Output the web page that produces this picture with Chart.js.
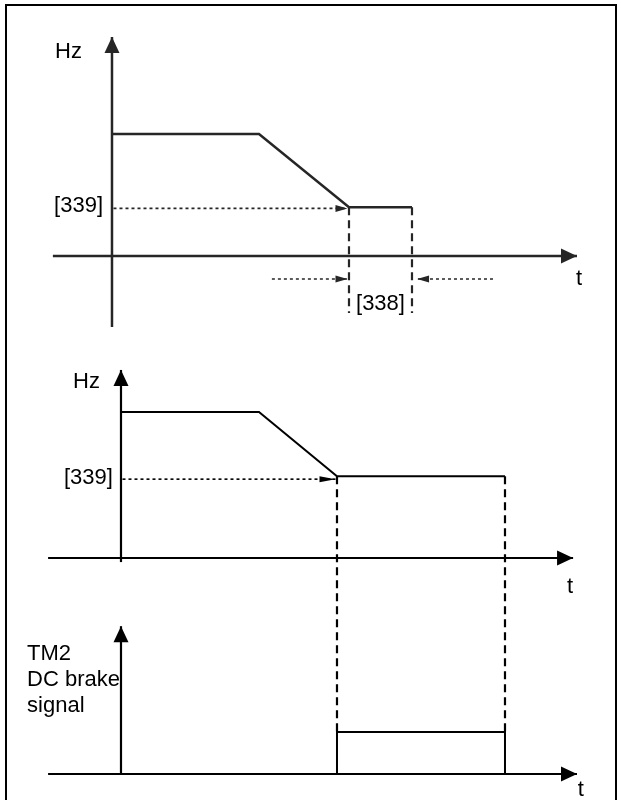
<!DOCTYPE html>
<html>
<head>
<meta charset="utf-8">
<script src="https://cdn.jsdelivr.net/npm/chart.js@4.4.0/dist/chart.umd.min.js"></script>
<style>
  body { margin: 0; background: #fff; }
  #wrap { position: relative; width: 621px; height: 800px; overflow: hidden; }
  #frame { position: absolute; left: 5px; top: 4px; width: 608px; height: 820px; border: 2px solid #000; }
  #diagram { position: absolute; left: 0; top: 0; }
</style>
</head>
<body>
<div id="wrap">
  <div id="frame"></div>
  <canvas id="diagram" width="621" height="800"></canvas>
</div>
<script>
// Panel 1: frequency vs time, short DC brake time [338]
const p1Time = [0, 4.9, 7.9, 10.0];
const p1Freq = [50, 50, 20, 20];
const p1AxisT = [-1.97, 15.5];   // time axis extent
const p1AxisF = [-29.1, 89.8];   // frequency axis extent
const p1BrakeStart = 7.9;
const p1BrakeEnd = 10.0;
const p1MarkerBottom = -23.4;
const p1TimeArrowLeft = [5.33, 7.85];
const p1TimeArrowRight = [12.7, 10.17];
const p1TimeArrowLevel = -9.4;

// Panel 2: frequency vs time
const p2Time = [0, 4.6, 7.2, 12.8];
const p2Freq = [50, 50, 28, 28];
const p2AxisT = [-2.43, 15.07];
const p2AxisF = [-1.4, 64.4];
const p2BrakeStart = 7.2;
const p2BrakeEnd = 12.8;
const p2MarkerBottom = -59.6;

// Panel 3: TM2 DC brake signal
const p3Time = [7.2, 7.2, 12.8, 12.8];
const p3Signal = [0, 1, 1, 0];
const p3AxisT = [-2.43, 15.2];
const p3AxisS = [0, 3.52];

// Labels (text anchored in data units)
const labels = [
  { text: 'Hz', x: -1.0, y: 81.1, xs: 'x1', ys: 'y1', align: 'right' },
  { text: '[339]', x: -0.3, y: 18.0, xs: 'x1', ys: 'y1', align: 'right' },
  { text: 't', x: 15.57, y: -11.9, xs: 'x1', ys: 'y1', align: 'center' },
  { text: '[338]', x: 8.95, y: -22.1, xs: 'x1', ys: 'y1', align: 'center' },
  { text: 'Hz', x: -0.7, y: 58.2, xs: 'x2', ys: 'y2', align: 'right' },
  { text: '[339]', x: -0.27, y: 25.3, xs: 'x2', ys: 'y2', align: 'right' },
  { text: 't', x: 14.97, y: -12, xs: 'x2', ys: 'y2', align: 'center' },
  { text: 't', x: 15.33, y: -0.524, xs: 'x2', ys: 'y3', align: 'center' },
  { text: 'TM2', x: -3.13, y: 2.714, xs: 'x2', ys: 'y3', align: 'left' },
  { text: 'DC brake', x: -3.13, y: 2.095, xs: 'x2', ys: 'y3', align: 'left' },
  { text: 'signal', x: -3.13, y: 1.476, xs: 'x2', ys: 'y3', align: 'left' }
];

const pts = (xs, ys) => xs.map((x, i) => ({ x: x, y: ys[i] }));

function line(data, xId, yId, color, width, extra = {}) {
  return Object.assign({
    data: data,
    xAxisID: xId,
    yAxisID: yId,
    showLine: true,
    borderColor: color,
    backgroundColor: color,
    borderWidth: width,
    pointRadius: 0,
    fill: false
  }, extra);
}

const DASH = [8, 5];
const DOT = [3, 3];
const AXIS_ARROW = [16, 7.5];
const SMALL_ARROW = [12, 3.5];
const c1 = '#262626';
const c2 = '#000';

const datasets = [
  // panel 1
  line(pts([0, 0], p1AxisF), 'x1', 'y1', c1, 2.5, { arrow: AXIS_ARROW }),
  line(pts(p1AxisT, [0, 0]), 'x1', 'y1', c1, 2.5, { arrow: AXIS_ARROW }),
  line(pts(p1Time, p1Freq), 'x1', 'y1', c1, 2.5),
  line(pts([p1BrakeStart, p1BrakeStart], [20, p1MarkerBottom]), 'x1', 'y1', c1, 2.2, { borderDash: DASH }),
  line(pts([p1BrakeEnd, p1BrakeEnd], [20, p1MarkerBottom]), 'x1', 'y1', c1, 2.2, { borderDash: DASH }),
  line(pts([0.05, p1BrakeStart - 0.05], [19.5, 19.5]), 'x1', 'y1', c1, 1.6, { borderDash: DOT, arrow: SMALL_ARROW }),
  line(pts(p1TimeArrowLeft, [p1TimeArrowLevel, p1TimeArrowLevel]), 'x1', 'y1', c1, 1.6, { borderDash: DOT, arrow: SMALL_ARROW }),
  line(pts(p1TimeArrowRight, [p1TimeArrowLevel, p1TimeArrowLevel]), 'x1', 'y1', c1, 1.6, { borderDash: DOT, arrow: SMALL_ARROW }),
  // panel 2
  line(pts([0, 0], p2AxisF), 'x2', 'y2', c2, 2.2, { arrow: AXIS_ARROW }),
  line(pts(p2AxisT, [0, 0]), 'x2', 'y2', c2, 2.2, { arrow: AXIS_ARROW }),
  line(pts(p2Time, p2Freq), 'x2', 'y2', c2, 2),
  line(pts([p2BrakeStart, p2BrakeStart], [28, p2MarkerBottom]), 'x2', 'y2', c2, 2.2, { borderDash: DASH }),
  line(pts([p2BrakeEnd, p2BrakeEnd], [28, p2MarkerBottom]), 'x2', 'y2', c2, 2.2, { borderDash: DASH }),
  line(pts([0.05, p2BrakeStart - 0.05], [27, 27]), 'x2', 'y2', c2, 1.6, { borderDash: DOT, arrow: [16, 3] }),
  // panel 3
  line(pts([0, 0], p3AxisS), 'x2', 'y3', c2, 2.2, { arrow: AXIS_ARROW }),
  line(pts(p3AxisT, [0, 0]), 'x2', 'y3', c2, 2.2, { arrow: AXIS_ARROW }),
  line(pts(p3Time, p3Signal), 'x2', 'y3', c2, 2)
];

// Arrowheads at the last point of a dataset
const arrowPlugin = {
  id: 'arrows',
  afterDatasetsDraw(chart) {
    const ctx = chart.ctx;
    chart.data.datasets.forEach((ds, i) => {
      if (!ds.arrow) return;
      const el = chart.getDatasetMeta(i).data;
      const a = el[el.length - 2];
      const b = el[el.length - 1];
      const ang = Math.atan2(b.y - a.y, b.x - a.x);
      const [len, half] = ds.arrow;
      ctx.save();
      ctx.translate(b.x, b.y);
      ctx.rotate(ang);
      ctx.beginPath();
      ctx.moveTo(0, 0);
      ctx.lineTo(-len, -half);
      ctx.lineTo(-len, half);
      ctx.closePath();
      ctx.fillStyle = ds.borderColor;
      ctx.fill();
      ctx.restore();
    });
  }
};

// Text labels
const labelPlugin = {
  id: 'labels',
  afterDraw(chart) {
    const ctx = chart.ctx;
    ctx.save();
    ctx.font = '22px "Liberation Sans", Arial, sans-serif';
    ctx.fillStyle = '#000';
    ctx.textBaseline = 'alphabetic';
    labels.forEach(l => {
      ctx.textAlign = l.align;
      ctx.fillText(l.text, chart.scales[l.xs].getPixelForValue(l.x), chart.scales[l.ys].getPixelForValue(l.y));
    });
    ctx.restore();
  }
};

const hidden = { type: 'linear', display: false };

new Chart(document.getElementById('diagram'), {
  type: 'scatter',
  data: { datasets: datasets },
  options: {
    responsive: false,
    animation: false,
    events: [],
    layout: { padding: 0 },
    plugins: { legend: { display: false }, tooltip: { enabled: false } },
    scales: {
      x1: Object.assign({}, hidden, { axis: 'x', min: -3.733, max: 16.967 }),
      x2: Object.assign({}, hidden, { axis: 'x', min: -4.033, max: 16.667 }),
      y1: Object.assign({}, hidden, { axis: 'y', min: -222.95, max: 104.92 }),
      y2: Object.assign({}, hidden, { axis: 'y', min: -82.88, max: 191.10 }),
      y3: Object.assign({}, hidden, { axis: 'y', min: -0.619, max: 18.43 })
    }
  },
  plugins: [arrowPlugin, labelPlugin]
});
</script>
</body>
</html>
